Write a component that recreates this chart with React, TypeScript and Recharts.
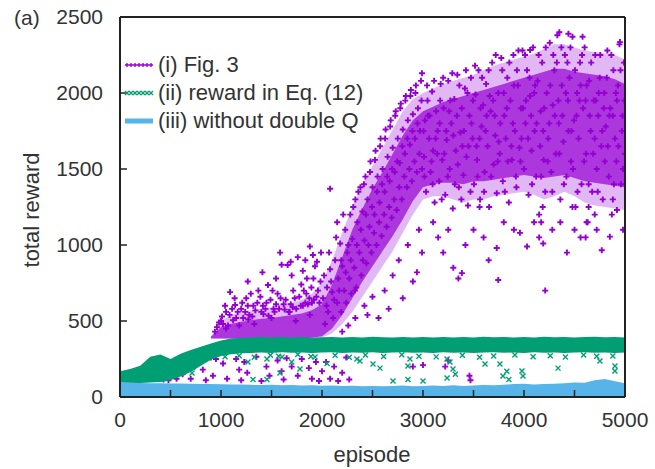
import { ComposedChart, Area, Scatter, XAxis, YAxis } from "recharts";

const PURPLE = "#9400d3";
const GREEN = "#009e73";
const BLUE = "#56b4e9";
const FONT = "'Liberation Sans', Arial, Helvetica, sans-serif";

// episode grid for the dense bands
const EPISODES = [
  0, 100, 200, 300, 400, 500, 600, 700, 800, 900, 1000, 1100, 1200, 1300, 1400, 1500, 1600,
  1700, 1800, 1900, 2000, 2100, 2200, 2300, 2400, 2500, 2600, 2700, 2800, 2900, 3000, 3100,
  3200, 3300, 3400, 3500, 3600, 3700, 3800, 3900, 4000, 4100, 4200, 4300, 4400, 4500, 4600,
  4700, 4800, 4900, 5000,
];

// (iii) without double Q: band from 0 up to this
const BLUE_TOP = [
  100, 95, 92, 90, 90, 88, 89, 87, 86, 85, 84, 82, 83, 80, 79, 81, 78, 79, 76, 77, 74, 75, 72,
  74, 71, 73, 71, 72, 75, 71, 73, 75, 72, 77, 73, 75, 79, 77, 81, 85, 87, 83, 85, 87, 91, 95,
  93, 110, 118, 104, 90,
];

// (ii) reward in Eq. (12): dense band
const GREEN_LO = [
  85, 88, 92, 95, 98, 110, 135, 165, 205, 245, 270, 282, 288, 290, 292, 290, 294, 291, 293,
  290, 292, 295, 290, 293, 291, 294, 290, 292, 295, 291, 293, 290, 294, 291, 293, 290, 292,
  295, 291, 293, 290, 294, 291, 293, 290, 292, 295, 291, 293, 290, 292,
];
const GREEN_HI = [
  170, 185, 205, 265, 280, 250, 285, 310, 330, 352, 372, 385, 390, 392, 394, 391, 395, 392,
  394, 390, 393, 395, 391, 394, 392, 396, 393, 391, 395, 392, 394, 391, 395, 392, 394, 391,
  396, 393, 395, 392, 394, 391, 396, 393, 395, 392, 394, 397, 393, 395, 392,
];

// (i) Fig. 3: outer (sparser) envelope of the cloud
const PURPLE_OUT_LO = [
  null, null, null, null, null, null, null, null, null, 385, 385, 385, 385, 385, 385, 385, 385,
  385, 385, 385, 390, 420, 480, 560, 660, 760, 860, 960, 1080, 1200, 1300, 1320, 1320, 1300,
  1280, 1300, 1300, 1320, 1330, 1340, 1350, 1330, 1300, 1320, 1350, 1320, 1280, 1260, 1250,
  1240, 1230,
];
const PURPLE_OUT_HI = [
  null, null, null, null, null, null, null, null, null, 400, 500, 540, 560, 570, 580, 590, 610,
  620, 640, 680, 750, 900, 1080, 1250, 1400, 1520, 1640, 1760, 1880, 1960, 2000, 2030, 2060,
  2080, 2100, 2120, 2150, 2180, 2200, 2220, 2240, 2260, 2290, 2320, 2320, 2300, 2280, 2270,
  2260, 2250, 2220,
];
// (i) Fig. 3: dense core of the cloud
const PURPLE_LO = [
  null, null, null, null, null, null, null, null, null, 385, 385, 385, 385, 385, 385, 385, 385,
  385, 385, 390, 400, 450, 540, 650, 760, 860, 960, 1060, 1170, 1290, 1380, 1400, 1410, 1410,
  1400, 1420, 1420, 1430, 1440, 1450, 1460, 1450, 1440, 1450, 1460, 1440, 1420, 1410, 1400,
  1390, 1380,
];
const PURPLE_HI = [
  null, null, null, null, null, null, null, null, null, 395, 460, 480, 495, 505, 515, 520, 530,
  540, 550, 570, 610, 740, 920, 1100, 1240, 1370, 1480, 1600, 1720, 1820, 1880, 1910, 1940,
  1960, 1980, 2000, 2020, 2040, 2060, 2080, 2100, 2120, 2140, 2160, 2160, 2140, 2130, 2120,
  2110, 2090, 2060,
];

// (i) Fig. 3: individual points [episode, reward]
const PURPLE_POINTS: [number, number][] = [
  [620, 150], [680, 200], [700, 120], [740, 200], [770, 230], [820, 180], [850, 110], [900, 260],
  [920, 140], [950, 250], [560, 120], [480, 110], [430, 115],
  [1020, 220], [1060, 120], [1150, 250], [1180, 180], [1200, 110], [1230, 230], [1260, 160],
  [1350, 265], [1400, 105], [1450, 200], [1480, 140], [1560, 240], [1600, 170], [1620, 115],
  [1650, 255], [1700, 200], [1760, 140], [1800, 250], [1870, 190], [1900, 120], [1940, 230],
  [1970, 105], [2000, 170],
  [980, 490], [1050, 560], [1090, 690], [1140, 605], [1150, 520], [1200, 580], [1250, 650],
  [1280, 540], [1320, 600], [1370, 700], [1400, 560], [1450, 620], [1465, 737], [1520, 580],
  [1560, 680], [1600, 870], [1620, 610], [1660, 868], [1680, 560], [1700, 800], [1730, 650],
  [1760, 920], [1790, 600], [1810, 830], [1820, 700], [1850, 780], [1880, 990], [1900, 620],
  [1910, 934], [1930, 860], [1950, 890], [1960, 700], [1990, 950], [1500, 520], [1330, 480],
  [1180, 470], [1050, 450], [1740, 500], [1880, 540],
  [1020, 480], [1120, 505], [1220, 520], [1310, 530], [1420, 545], [1530, 560], [1630, 575],
  [1710, 590], [1810, 600], [1920, 640], [1070, 470], [1270, 510], [1470, 535], [1670, 560],
  [1860, 610], [940, 430], [960, 460], [1000, 500],
  [1010, 530], [1040, 600], [1085, 540], [1110, 580], [1135, 650], [1165, 560], [1210, 620],
  [1240, 560], [1265, 600], [1295, 680], [1340, 570], [1360, 620], [1390, 660], [1415, 600],
  [1440, 580], [1490, 640], [1510, 700], [1545, 610], [1575, 580], [1590, 650], [1640, 640],
  [1690, 610], [1715, 700], [1745, 580], [1775, 660], [1795, 740], [1835, 620], [1845, 680],
  [1875, 650], [1895, 720], [1915, 780], [1945, 660], [1975, 620], [1985, 760], [1265, 760],
  [1410, 820], [1545, 780], [1585, 950], [1690, 890], [1835, 900],
  [2010, 650], [2030, 480], [2050, 720], [2060, 560], [2080, 840], [2100, 690], [2110, 520],
  [2130, 900], [2150, 620], [2160, 780], [2180, 1010], [2190, 560], [2200, 860], [2220, 700],
  [2230, 1100], [2240, 620], [2250, 950], [2270, 780], [2280, 1200], [2290, 680], [2300, 1040],
  [2320, 850], [2330, 1300], [2340, 720], [2350, 1150], [2370, 950], [2380, 1380], [2390, 800],
  [2400, 1220], [2420, 1030], [2430, 1450], [2440, 880], [2450, 1300], [2470, 1120],
  [2480, 1550], [2490, 950], [2500, 1380], [2520, 1200], [2530, 1620], [2540, 1000],
  [2550, 1450], [2570, 1280], [2580, 1700], [2590, 1060], [2600, 1500], [2620, 1350],
  [2630, 1760], [2640, 1120], [2650, 1580], [2670, 1420], [2680, 1820], [2690, 1180],
  [2700, 1640], [2720, 1480], [2730, 1880], [2740, 1230], [2750, 1700], [2770, 1540],
  [2780, 1930], [2790, 1300], [2800, 1760], [2820, 1600], [2830, 1980], [2840, 1380],
  [2850, 1820], [2870, 1660], [2880, 2020], [2890, 1420], [2900, 1860], [2920, 1700],
  [2930, 2050], [2940, 1480], [2950, 1900], [2970, 1750], [2980, 2080], [2990, 1500],
  [2020, 800], [2045, 600], [2070, 950], [2090, 760], [2120, 640], [2140, 1050], [2170, 700],
  [2190, 900], [2210, 1200], [2235, 820], [2260, 1000], [2285, 900], [2310, 1250], [2325, 700],
  [2345, 1000], [2360, 1350], [2385, 1100], [2405, 900], [2415, 1400], [2435, 1200],
  [2460, 1000], [2475, 1480], [2495, 1250], [2515, 1080], [2525, 1560], [2545, 1350],
  [2565, 1150], [2575, 1650], [2595, 1400], [2615, 1200], [2625, 1700], [2645, 1450],
  [2665, 1250], [2675, 1780], [2695, 1500], [2715, 1300], [2725, 1850], [2745, 1550],
  [2765, 1380], [2775, 1900], [2795, 1650], [2815, 1450], [2825, 1950], [2845, 1700],
  [2865, 1500], [2875, 1980], [2895, 1750], [2915, 1550], [2925, 2000], [2945, 1800],
  [2965, 1600], [2985, 1950],
  [2080, 1370], [2150, 1150], [2200, 430], [2260, 470], [2330, 520], [2420, 600], [2450, 540],
  [2500, 660], [2560, 520], [2620, 700], [2660, 580], [2700, 800], [2760, 900], [2800, 650],
  [2850, 1000], [2900, 760], [2940, 820], [2960, 1100], [2990, 950],
  [2040, 230], [2080, 120], [2120, 200], [2160, 105], [2200, 160], [2240, 260], [2270, 115],
  [2900, 200], [3000, 210], [3220, 200], [3250, 240], [3460, 140], [3470, 110],
  [3010, 1580], [3020, 1820], [3030, 1350], [3045, 1950], [3060, 1700], [3075, 1480],
  [3090, 2010], [3100, 1620], [3115, 1280], [3130, 1880], [3145, 1750], [3160, 1420],
  [3175, 2060], [3190, 1560], [3205, 1900], [3220, 1330], [3235, 1690], [3250, 2080],
  [3265, 1500], [3280, 1800], [3295, 1240], [3310, 1960], [3325, 1620], [3340, 2120],
  [3355, 1380], [3370, 1740], [3385, 1900], [3400, 1460], [3415, 2030], [3430, 1580],
  [3445, 1260], [3460, 1850], [3475, 2100], [3490, 1700], [3505, 1400], [3520, 1990],
  [3535, 1560], [3550, 2150], [3565, 1300], [3580, 1780], [3595, 1920], [3610, 1480],
  [3625, 2060], [3640, 1650], [3655, 1250], [3670, 1880], [3685, 2200], [3700, 1530],
  [3715, 1720], [3730, 1340], [3745, 2000], [3760, 1600], [3775, 2230], [3790, 1420],
  [3805, 1850], [3820, 1700], [3835, 2100], [3850, 1280], [3865, 1950], [3880, 1560],
  [3895, 2250], [3910, 1750], [3925, 1380], [3940, 2050], [3955, 1640], [3970, 1900],
  [3985, 2280], [4000, 1500], [4015, 1800], [4030, 2150], [4045, 1330], [4060, 1980],
  [4075, 1620], [4090, 2300], [4105, 1750], [4120, 1450], [4135, 2080], [4150, 1200],
  [4165, 1880], [4180, 2200], [4195, 1560], [4210, 1350], [4225, 2000], [4240, 1700],
  [4255, 2330], [4270, 1480], [4285, 1920], [4300, 2150], [4315, 1600], [4330, 2380],
  [4345, 1800], [4360, 1300], [4375, 2050], [4390, 1680], [4405, 2250], [4420, 1450],
  [4435, 1950], [4450, 2100], [4465, 1550], [4480, 2370], [4495, 1820], [4510, 1250],
  [4525, 2000], [4540, 1700], [4555, 2200], [4570, 1400], [4585, 1900], [4600, 2300],
  [4615, 1600], [4630, 1150], [4645, 2080], [4660, 1750], [4675, 1350], [4690, 1950],
  [4705, 2250], [4720, 1500], [4735, 1850], [4750, 2100], [4765, 1650], [4780, 1300],
  [4795, 2000], [4810, 1780], [4825, 2280], [4840, 1450], [4855, 1900], [4870, 1200],
  [4885, 2150], [4900, 1700], [4915, 1550], [4930, 2050], [4945, 2320], [4960, 1400],
  [4975, 1850], [4990, 2200], [5000, 1600],
  [3005, 1750], [3050, 1850], [3085, 1550], [3125, 1700], [3170, 1950], [3210, 1600],
  [3260, 1880], [3300, 1720], [3345, 1530], [3390, 1650], [3440, 2000], [3480, 1800],
  [3530, 1650], [3570, 1900], [3620, 1750], [3660, 1980], [3710, 1850], [3750, 1680],
  [3800, 2000], [3840, 1550], [3890, 1800], [3930, 2150], [3975, 1700], [4020, 1950],
  [4070, 1850], [4110, 2050], [4160, 1650], [4200, 1900], [4250, 1800], [4290, 2250],
  [4340, 1950], [4380, 1850], [4430, 2200], [4470, 1750], [4520, 1850], [4560, 2050],
  [4610, 1950], [4650, 1850], [4700, 1700], [4740, 2000], [4790, 1900], [4830, 1650],
  [4880, 1850], [4920, 1950], [4970, 1750],
  [3015, 1450], [3040, 2050], [3065, 1850], [3095, 1400], [3110, 2080], [3140, 1600],
  [3165, 1800], [3185, 1300], [3200, 2100], [3230, 1750], [3245, 1450], [3270, 1950],
  [3290, 2130], [3315, 1400], [3335, 1850], [3360, 2050], [3380, 1300], [3405, 1750],
  [3425, 2150], [3450, 1650], [3470, 1350], [3495, 1950], [3515, 2180], [3540, 1450],
  [3560, 1700], [3585, 2100], [3605, 1350], [3630, 1850], [3650, 2150], [3675, 1450],
  [3695, 1950], [3720, 2250], [3740, 1550], [3765, 1800], [3785, 2150], [3810, 1350],
  [3830, 1900], [3855, 2200], [3875, 1650], [3900, 2050], [3920, 1450], [3945, 2280],
  [3965, 1550], [3990, 1900], [4010, 2250], [4040, 1700], [4055, 2100], [4080, 1400],
  [4100, 2000], [4125, 1800], [4145, 2250], [4170, 1450], [4190, 1750], [4215, 2300],
  [4235, 1550], [4260, 2050], [4280, 1350], [4305, 1850], [4325, 2200], [4350, 1600],
  [4370, 2300], [4395, 1400], [4415, 2000], [4440, 1750], [4460, 2300], [4485, 1500],
  [4505, 2150], [4530, 1350], [4550, 1950], [4575, 2250], [4595, 1550], [4620, 2050],
  [4640, 1400], [4665, 2200], [4685, 1600], [4710, 1950], [4730, 1350], [4755, 2250],
  [4775, 1750], [4800, 1550], [4820, 2100], [4845, 1850], [4865, 2250], [4890, 1400],
  [4910, 2000], [4935, 1650], [4955, 2150], [4980, 1500], [4995, 1950], [4185, 1250],
  [4640, 1250], [4480, 1250], [3560, 1250], [4880, 1300], [4170, 1150], [4720, 1100],
  [4610, 1050],
  [3100, 1150], [3150, 1050], [3200, 950], [3250, 1100], [3300, 850], [3350, 780],
  [3385, 815], [3420, 1000], [3500, 1100], [3600, 1050], [3650, 900], [3730, 980],
  [3745, 770], [3800, 1150], [3900, 1100], [3960, 1080], [4030, 990], [4100, 1150],
  [4150, 1050], [4190, 1010], [4210, 700], [4280, 1100], [4360, 1150], [4425, 950],
  [4500, 1100], [4560, 1050], [4620, 1150], [4700, 1200], [4770, 965], [4850, 1055],
  [4920, 1230], [4980, 1100],
  [2990, 2130], [4350, 2400], [4440, 2390], [4580, 2370], [4060, 2283], [4950, 2335],
];

// (ii) reward in Eq. (12): scattered points below the band [episode, reward]
const GREEN_POINTS: [number, number][] = [
  [620, 200], [713, 158], [760, 220], [1267, 230], [1317, 115], [1455, 250], [1455, 115],
  [1584, 158], [1604, 263], [1700, 230], [1782, 184], [1931, 263], [2050, 220], [2346, 250],
  [2376, 237], [2505, 217], [2574, 190], [2703, 105], [2851, 115], [2851, 204], [2871, 250],
  [3000, 105], [3238, 250], [3238, 125], [3267, 230], [3297, 184], [3320, 150], [3614, 217],
  [3762, 217], [3792, 138], [3830, 170], [3850, 115], [3980, 171], [3990, 138], [4337, 190],
  [4752, 237], [4901, 204], [4900, 171],
  [1040, 265], [1180, 272], [1330, 262], [1490, 275], [1570, 268], [1760, 280], [1890, 266],
  [2130, 274], [2270, 262], [2430, 276], [2610, 266], [2790, 278], [2960, 268], [3130, 264],
  [3390, 275], [3560, 262], [3700, 270], [3910, 276], [4090, 265], [4260, 272], [4410, 263],
  [4590, 277], [4720, 268], [4880, 270],
];

const X_TICKS = [0, 500, 1000, 1500, 2000, 2500, 3000, 3500, 4000, 4500, 5000];
const Y_TICKS = [0, 500, 1000, 1500, 2000, 2500];

const LEGEND = [
  { label: "(i) Fig. 3", color: PURPLE, mark: "plus" },
  { label: "(ii) reward in Eq. (12)", color: GREEN, mark: "cross" },
  { label: "(iii) without double Q", color: BLUE, mark: "line" },
];

const range = (lo: (number | null)[], hi: (number | null)[], i: number) =>
  lo[i] == null ? null : [lo[i], hi[i]];

const bandData = EPISODES.map((x, i) => ({
  x,
  blue: BLUE_TOP[i],
  green: [GREEN_LO[i], GREEN_HI[i]],
  purpleOuter: range(PURPLE_OUT_LO, PURPLE_OUT_HI, i),
  purple: range(PURPLE_LO, PURPLE_HI, i),
}));
const purplePts = PURPLE_POINTS.map(([x, y]) => ({ x, y }));
const greenPts = GREEN_POINTS.map(([x, y]) => ({ x, y }));

const Plus = (props: any) => {
  const { cx, cy } = props;
  if (cx == null || cy == null) return <g />;
  return (
    <path
      d={`M${cx - 3},${cy}h6M${cx},${cy - 3}v6`}
      stroke={PURPLE}
      strokeWidth={1.9}
    />
  );
};

const Cross = (props: any) => {
  const { cx, cy } = props;
  if (cx == null || cy == null) return <g />;
  return (
    <path
      d={`M${cx - 2.5},${cy - 2.5}l5,5M${cx - 2.5},${cy + 2.5}l5,-5`}
      stroke={GREEN}
      strokeWidth={1.4}
    />
  );
};

function LegendMark({ mark, color }: { mark: string; color: string }) {
  if (mark === "line") {
    return (
      <svg width={30} height={10}>
        <rect x={1} y={2.5} width={28} height={5} fill={color} />
      </svg>
    );
  }
  const xs = [3, 7, 11, 15, 19, 23, 27];
  return (
    <svg width={30} height={10}>
      {xs.map((x) =>
        mark === "plus" ? (
          <path key={x} d={`M${x - 2},5h4M${x},3v4`} stroke={color} strokeWidth={1.3} />
        ) : (
          <path key={x} d={`M${x - 2},3l4,4M${x - 2},7l4,-4`} stroke={color} strokeWidth={1.3} />
        )
      )}
    </svg>
  );
}

const tickStyle = { fill: "#333", fontSize: 21, fontFamily: FONT };
const frame = { stroke: "#222", strokeWidth: 2 };
const tickLine = { stroke: "#222", strokeWidth: 1.5 };

export default function App() {
  return (
    <div
      style={{
        position: "absolute",
        left: 0,
        top: 0,
        width: 655,
        height: 469,
        background: "#fff",
        fontFamily: FONT,
        color: "#333",
      }}
    >
      <ComposedChart
        width={655}
        height={469}
        data={bandData}
        margin={{ top: 16, right: 29, bottom: 31, left: 20 }}
      >
        <XAxis
          xAxisId="top"
          orientation="top"
          type="number"
          domain={[0, 5000]}
          allowDataOverflow
          ticks={X_TICKS}
          height={1}
          tick={false}
          tickSize={-7}
          axisLine={frame}
          tickLine={tickLine}
        />
        <YAxis
          yAxisId="right"
          orientation="right"
          type="number"
          domain={[0, 2500]}
          allowDataOverflow
          ticks={Y_TICKS}
          width={1}
          tick={false}
          tickSize={-7}
          axisLine={frame}
          tickLine={tickLine}
        />
        <XAxis
          dataKey="x"
          type="number"
          domain={[0, 5000]}
          allowDataOverflow
          ticks={X_TICKS}
          interval={0}
          height={41}
          tickSize={-7}
          tickMargin={22}
          tickFormatter={(v) => (v % 1000 === 0 ? String(v) : "")}
          tick={tickStyle}
          axisLine={frame}
          tickLine={tickLine}
        />
        <YAxis
          dataKey="y"
          type="number"
          domain={[0, 2500]}
          allowDataOverflow
          ticks={Y_TICKS}
          interval={0}
          width={100}
          tickSize={-7}
          tickMargin={24}
          tick={tickStyle}
          axisLine={frame}
          tickLine={tickLine}
        />
        <Area
          dataKey="purpleOuter"
          type="linear"
          stroke="none"
          fill={PURPLE}
          fillOpacity={0.28}
          dot={false}
          activeDot={false}
          isAnimationActive={false}
          zIndex={100}
        />
        <Area
          dataKey="purple"
          type="linear"
          stroke="none"
          fill={PURPLE}
          fillOpacity={0.7}
          dot={false}
          activeDot={false}
          isAnimationActive={false}
          zIndex={101}
        />
        <Scatter
          data={purplePts}
          shape={Plus}
          isAnimationActive={false}
          zIndex={110}
        />
        <Area
          dataKey="green"
          type="linear"
          stroke="none"
          fill={GREEN}
          fillOpacity={1}
          dot={false}
          activeDot={false}
          isAnimationActive={false}
          zIndex={120}
        />
        <Scatter
          data={greenPts}
          shape={Cross}
          isAnimationActive={false}
          zIndex={130}
        />
        <Area
          dataKey="blue"
          type="linear"
          stroke="none"
          fill={BLUE}
          fillOpacity={1}
          baseValue={0}
          dot={false}
          activeDot={false}
          isAnimationActive={false}
          zIndex={140}
        />
      </ComposedChart>

      <div style={{ position: "absolute", left: 14, top: 5, fontSize: 21, lineHeight: "26px" }}>
        (a)
      </div>
      <div
        style={{
          position: "absolute",
          left: 32,
          top: 210,
          fontSize: 22,
          whiteSpace: "nowrap",
          transform: "translate(-50%, -50%) rotate(-90deg)",
        }}
      >
        total reward
      </div>
      <div
        style={{
          position: "absolute",
          left: 372,
          top: 455,
          fontSize: 22,
          whiteSpace: "nowrap",
          transform: "translate(-50%, -50%)",
        }}
      >
        episode
      </div>

      <div style={{ position: "absolute", left: 124, top: 51 }}>
        {LEGEND.map((item) => (
          <div
            key={item.label}
            style={{ display: "flex", alignItems: "center", height: 28, fontSize: 22 }}
          >
            <LegendMark mark={item.mark} color={item.color} />
            <span style={{ marginLeft: 4, whiteSpace: "nowrap" }}>{item.label}</span>
          </div>
        ))}
      </div>
    </div>
  );
}
